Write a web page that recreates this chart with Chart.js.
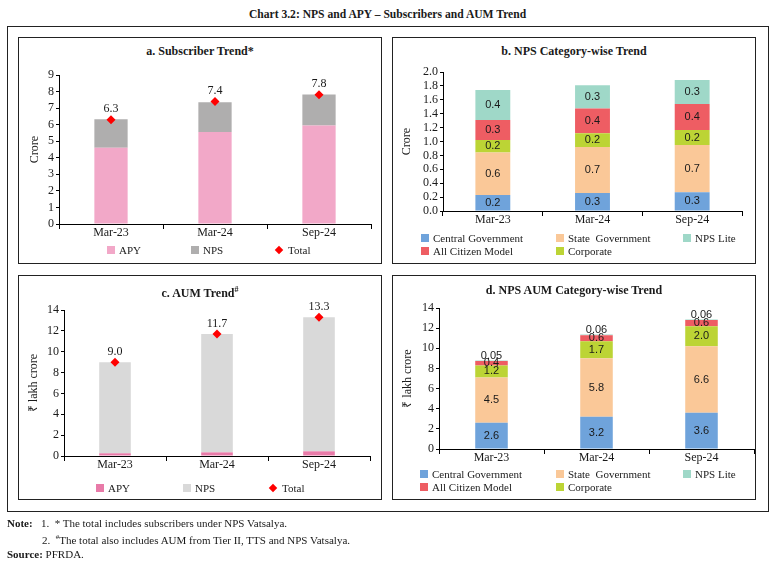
<!DOCTYPE html>
<html lang="en">
<head>
<meta charset="UTF-8">
<title>Chart 3.2: NPS and APY – Subscribers and AUM Trend</title>
<style>
  body { margin: 0; background: #fff; color: #1a1a1a; font-family: "Liberation Serif", serif; width: 775px; height: 561px; position: relative; overflow: hidden; }
  .main-title { position: absolute; top: 8px; left: 0; width: 775px; text-align: center; font-weight: bold; font-size: 11.6px; }
  .outer { position: absolute; left: 7px; top: 26px; width: 762px; height: 486px; border: 1px solid #222; box-sizing: border-box; }
  .panel { position: absolute; border: 1px solid #222; box-sizing: border-box; }
  .panel canvas { position: absolute; left: 0; top: 0; }
  .ptitle { position: absolute; left: 0; right: 0; text-align: center; font-weight: bold; font-size: 12px; line-height: 14px; }
  .ptitle sup { font-size: 8px; }
  .li { position: absolute; font-size: 11px; line-height: 13px; white-space: nowrap; }
  .li .sw { display: inline-block; width: 8px; height: 8px; margin-right: 4px; vertical-align: 0px; }
  .li .dia { display: inline-block; width: 6px; height: 6px; margin: 0 6px 0 1px; transform: rotate(45deg); vertical-align: 1px; }
  .notes { position: absolute; left: 7px; top: 516px; font-size: 11px; line-height: 14px; }
  .notes b { font-weight: bold; }
  .notes .ind { padding-left: 35px; }
  .notes sup { font-size: 7px; }
</style>
</head>
<body>
<div class="main-title">Chart 3.2: NPS and APY – Subscribers and AUM Trend</div>
<div class="outer"></div>

<div class="panel" id="pa" style="left:18px;top:37px;width:364px;height:227px;">
  <div class="ptitle" style="top:6px;">a. Subscriber Trend*</div>
  <canvas id="chartA" width="362" height="225"></canvas>
</div>
<div class="panel" id="pb" style="left:392px;top:37px;width:364px;height:227px;">
  <div class="ptitle" style="top:6px;">b. NPS Category-wise Trend</div>
  <canvas id="chartB" width="362" height="225"></canvas>
</div>
<div class="panel" id="pc" style="left:18px;top:275px;width:364px;height:225px;">
  <div class="ptitle" style="top:7px;">c. AUM Trend<sup>#</sup></div>
  <canvas id="chartC" width="362" height="223"></canvas>
</div>
<div class="panel" id="pd" style="left:392px;top:275px;width:364px;height:225px;">
  <div class="ptitle" style="top:7px;">d. NPS AUM Category-wise Trend</div>
  <canvas id="chartD" width="362" height="223"></canvas>
</div>

<div class="notes">
  <div><b>Note:</b>&nbsp;&nbsp;&nbsp;1.&nbsp; * The total includes subscribers under NPS Vatsalya.</div>
  <div class="ind">2.&nbsp; <sup>#</sup>The total also includes AUM from Tier II, TTS and NPS Vatsalya.</div>
  <div><b>Source:</b> PFRDA.</div>
</div>

<script src="https://cdn.jsdelivr.net/npm/chart.js"></script>
<script>
const periods = ['Mar-23', 'Mar-24', 'Sep-24'];

// a. subscribers, crore
const subsAPY = [4.6, 5.56, 5.95];
const subsNPS = [1.73, 1.8, 1.87];
const subsTotal = [6.3, 7.4, 7.8];

// b. NPS subscribers by category, crore
const catCentral = [0.23, 0.26, 0.27];
const catState = [0.61, 0.66, 0.68];
const catCorporate = [0.18, 0.20, 0.215];
const catCitizen = [0.29, 0.355, 0.375];
const catLite = [0.43, 0.335, 0.345];

// c. AUM, lakh crore
const aumAPY = [0.26, 0.35, 0.45];
const aumNPS = [8.74, 11.35, 12.85];
const aumTotal = [9.0, 11.7, 13.3];

// d. NPS AUM by category, lakh crore
const aumCentral = [2.6, 3.2, 3.6];
const aumState = [4.5, 5.8, 6.6];
const aumCorporate = [1.2, 1.7, 2.0];
const aumCitizen = [0.44, 0.6, 0.6];
const aumLite = [0.05, 0.06, 0.06];

const serif = '"Liberation Serif", serif';
const sans = '"Liberation Sans", Arial, sans-serif';
const ink = '#1a1a1a';

// draws the numbers on bars / markers
const valueLabels = {
    id: 'valueLabels',
    afterDatasetsDraw(chart) {
        const ctx = chart.ctx;
        chart.data.datasets.forEach((ds, i) => {
            if (!ds.labelMode) return;
            const meta = chart.getDatasetMeta(i);
            ctx.save();
            ctx.fillStyle = ink;
            ctx.textAlign = 'center';
            ctx.textBaseline = 'middle';
            ctx.font = ds.labelFont || ('11px ' + sans);
            meta.data.forEach((el, j) => {
                const v = ds.data[j];
                const txt = v.toFixed(ds.labelDigits ?? 1);
                const y = ds.labelMode === 'center' ? (el.y + el.base) / 2 : el.y - ds.labelOffset;
                ctx.fillText(txt, el.x, y);
            });
            ctx.restore();
        });
    }
};

function barSet(label, data, color, pct, extra) {
    return Object.assign({ label, data, backgroundColor: color, borderWidth: 0,
        barPercentage: pct, categoryPercentage: 1, stack: 's' }, extra || {});
}

function totalSet(data, offset) {
    return { type: 'line', label: 'Total', data, showLine: false, order: -1, stack: 'total',
        pointStyle: 'rectRot', pointRadius: 4.5, pointHoverRadius: 4.5,
        backgroundColor: '#ff0000', borderColor: '#ff0000', borderWidth: 0,
        labelMode: 'above', labelOffset: offset, labelFont: '12px ' + serif };
}

function buildChart(id, o) {
    return new Chart(document.getElementById(id), {
        type: 'bar',
        data: { labels: periods, datasets: o.datasets },
        options: {
            responsive: false,
            animation: false,
            layout: { padding: o.padding },
            plugins: { legend: { display: false }, tooltip: { enabled: false } },
            scales: {
                x: {
                    stacked: true,
                    grid: { drawOnChartArea: false, color: '#000', tickLength: 5, offset: true },
                    border: { color: '#000' },
                    ticks: { color: ink, font: { family: serif, size: 12 }, padding: -3 },
                    afterFit: s => { s.height = 20; }
                },
                y: {
                    stacked: true, min: 0, max: o.max,
                    grid: { drawOnChartArea: false, color: '#000', tickLength: 3 },
                    border: { color: '#000' },
                    ticks: { stepSize: o.step, autoSkip: false, padding: 2, color: ink, font: { family: serif, size: 12 },
                        callback: v => v.toFixed(o.digits) },
                    title: { display: true, text: o.yTitle, color: ink, font: { family: serif, size: 12 }, padding: { top: 4, bottom: 0 } },
                    afterFit: s => { s.width = o.yWidth; }
                }
            }
        },
        plugins: [valueLabels]
    });
}

buildChart('chartA', {
    max: 9, step: 1, digits: 0, yTitle: 'Crore', yWidth: 35,
    padding: { left: 5, right: 10, top: 37, bottom: 19 },
    datasets: [
        totalSet(subsTotal, 11),
        barSet('APY', subsAPY, '#f2a8c8', 0.32),
        barSet('NPS', subsNPS, '#afaeae', 0.32)
    ]
});

const catColors = ['#6fa3db', '#fac898', '#bcd435', '#ee5d63', '#9fd8c8'];
buildChart('chartB', {
    max: 2, step: 0.2, digits: 1, yTitle: 'Crore', yWidth: 47,
    padding: { left: 3, right: 13, top: 34, bottom: 32 },
    datasets: [
        barSet('Central Government', catCentral, catColors[0], 0.35, { labelMode: 'center' }),
        barSet('State  Government', catState, catColors[1], 0.35, { labelMode: 'center' }),
        barSet('Corporate', catCorporate, catColors[2], 0.35, { labelMode: 'center' }),
        barSet('All Citizen Model', catCitizen, catColors[3], 0.35, { labelMode: 'center' }),
        barSet('NPS Lite', catLite, catColors[4], 0.35, { labelMode: 'center' })
    ]
});

buildChart('chartC', {
    max: 14, step: 2, digits: 0, yTitle: '₹ lakh crore', yWidth: 41,
    padding: { left: 4, right: 11, top: 34, bottom: 23 },
    datasets: [
        totalSet(aumTotal, 10),
        barSet('APY', aumAPY, '#e87aa8', 0.31),
        barSet('NPS', aumNPS, '#d9d9d9', 0.31)
    ]
});

buildChart('chartD', {
    max: 14, step: 2, digits: 0, yTitle: '₹ lakh crore', yWidth: 42,
    padding: { left: 4, right: 1, top: 32, bottom: 30 },
    datasets: [
        barSet('Central Government', aumCentral, catColors[0], 0.31, { labelMode: 'center' }),
        barSet('State  Government', aumState, catColors[1], 0.31, { labelMode: 'center' }),
        barSet('Corporate', aumCorporate, catColors[2], 0.31, { labelMode: 'center' }),
        barSet('All Citizen Model', aumCitizen, catColors[3], 0.31, { labelMode: 'center' }),
        barSet('NPS Lite', aumLite, catColors[4], 0.31, { labelMode: 'above', labelOffset: 5, labelDigits: 2 })
    ]
});

// html legends
function legend(panelId, items) {
    const panel = document.getElementById(panelId);
    items.forEach(it => {
        const d = document.createElement('div');
        d.className = 'li';
        d.style.left = it.x + 'px';
        d.style.top = (it.y - 7) + 'px';
        const mark = it.diamond ? '<span class="dia" style="background:' + it.color + '"></span>'
                                : '<span class="sw" style="background:' + it.color + '"></span>';
        d.innerHTML = mark + it.text;
        panel.appendChild(d);
    });
}

legend('pa', [
    { x: 88, y: 213, color: '#f2a8c8', text: 'APY' },
    { x: 172, y: 213, color: '#afaeae', text: 'NPS' },
    { x: 256, y: 213, color: '#ff0000', text: 'Total', diamond: true }
]);
legend('pc', [
    { x: 77, y: 213, color: '#e87aa8', text: 'APY' },
    { x: 164, y: 213, color: '#d9d9d9', text: 'NPS' },
    { x: 250, y: 213, color: '#ff0000', text: 'Total', diamond: true }
]);
[['pb', 201, 214, 28], ['pd', 199, 212, 27]].forEach(([id, r1, r2, c1]) => {
    legend(id, [
        { x: c1, y: r1, color: catColors[0], text: 'Central Government' },
        { x: 163, y: r1, color: catColors[1], text: 'State&nbsp; Government' },
        { x: 290, y: r1, color: catColors[4], text: 'NPS Lite' },
        { x: c1, y: r2, color: catColors[3], text: 'All Citizen Model' },
        { x: 163, y: r2, color: catColors[2], text: 'Corporate' }
    ]);
});
</script>
</body>
</html>
